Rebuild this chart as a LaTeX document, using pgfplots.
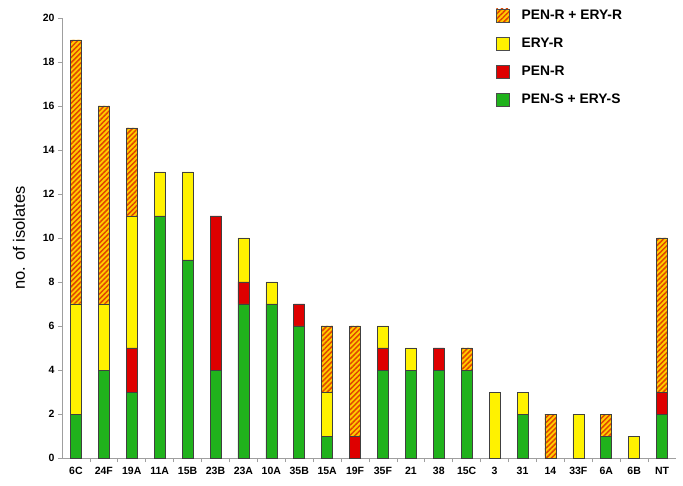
\documentclass[border=0pt]{standalone}
\usepackage{pgfplots}
\usepackage{pgfplotstable}
\pgfplotsset{compat=1.18}
\usetikzlibrary{patterns.meta}
\usepackage{fontspec}
\setmainfont{Liberation Sans}
\definecolor{cgreen}{RGB}{32,178,28}
\definecolor{cred}{RGB}{222,0,0}
\definecolor{cyellow}{RGB}{255,242,0}
\definecolor{corange}{RGB}{255,205,0}
\definecolor{cstripe}{RGB}{225,70,0}
\pgfplotstableread{
x cat green red yellow hatch
0 6C 2 0 5 12
1 24F 4 0 3 9
2 19A 3 2 6 4
3 11A 11 0 2 0
4 15B 9 0 4 0
5 23B 4 7 0 0
6 23A 7 1 2 0
7 10A 7 0 1 0
8 35B 6 1 0 0
9 15A 1 0 2 3
10 19F 0 1 0 5
11 35F 4 1 1 0
12 21 4 0 1 0
13 38 4 1 0 0
14 15C 4 0 0 1
15 3 0 0 3 0
16 31 2 0 1 0
17 14 0 0 0 2
18 33F 0 0 2 0
19 6A 1 0 0 1
20 6B 0 0 1 0
21 NT 2 1 0 7
}\datatable
\begin{document}
\begin{tikzpicture}
\path[use as bounding box] (-62pt,-27pt) rectangle (621pt,458pt);
\begin{axis}[
  at={(0,0)}, anchor=south west,
  scale only axis, width=614pt, height=440pt,
  ybar stacked, bar width=11pt,
  xmin=-0.5, xmax=21.5, ymin=0, ymax=20,
  ytick={0,2,...,20},
  xtick={0,...,21},
  xticklabels={6C,24F,19A,11A,15B,23B,23A,10A,35B,15A,19F,35F,21,38,15C,3,31,14,33F,6A,6B,NT},
  minor xtick={0.5,1.5,...,20.5},
  axis x line*=bottom, axis y line*=left,
  axis line style={draw=gray!75, line width=0.8pt, -},
  tick style={draw=gray!75, line width=0.8pt},
  major x tick style={draw=none},
  minor tick length=4pt, major tick length=4pt,
  tick align=outside,
  /pgf/number format/assume math mode=true,
  tick label style={font=\bfseries\fontsize{10.5}{12}\selectfont},
  xticklabel style={yshift=-2pt},
  ylabel={no. of isolates},
  ylabel style={at={(axis description cs:-0.07,0.5)}, anchor=center, font=\fontsize{16.5}{19}\selectfont},
  every axis plot/.append style={draw=black!75, line width=0.5pt},
  legend style={at={(axis description cs:0.702,1.028)}, anchor=north west, draw=none, fill=none,
    font=\bfseries\fontsize{13.8}{16}\selectfont, row sep=13pt, cells={anchor=west}},
  legend image code/.code={\draw[#1, draw=black!70] (0pt,-6.5pt) rectangle (13pt,6.5pt); \path (23pt,0pt);},
  reverse legend,
]
\addplot[fill=cgreen] table[x=x,y=green]{\datatable};
\addplot[fill=cred] table[x=x,y=red]{\datatable};
\addplot[fill=cyellow] table[x=x,y=yellow]{\datatable};
\addplot[fill=corange, postaction={pattern={Lines[angle=45, distance=3.6pt, line width=1.5pt]}, pattern color=cstripe}] table[x=x,y=hatch]{\datatable};
\legend{PEN-S + ERY-S, PEN-R, ERY-R, PEN-R + ERY-R}
\end{axis}
\end{tikzpicture}
\end{document}
